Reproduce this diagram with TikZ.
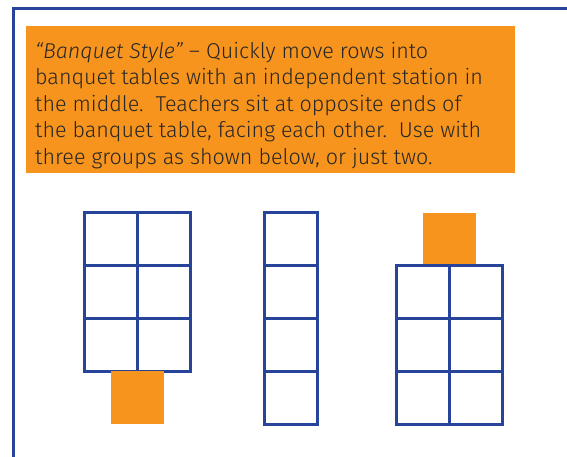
\documentclass[tikz,border=0pt]{standalone}
\usepackage{fontspec}
\setmainfont{Fira Sans}[UprightFont=* Light, ItalicFont=* Light Italic]
\definecolor{tblblue}{HTML}{26459A}
\definecolor{stnorange}{HTML}{F7941D}
\begin{document}
\begin{tikzpicture}[
  x=1pt, y=-1pt,
  cell/.style={rectangle, draw=tblblue, line width=3pt, minimum size=53pt, inner sep=0pt},
  station/.style={rectangle, fill=stnorange, minimum size=53pt, inner sep=0pt},
  note/.style={rectangle, fill=stnorange, minimum width=489pt, minimum height=147pt, inner sep=0pt}
]
  \useasboundingbox (0,0) rectangle (567,456);
  % outer frame
  \draw[tblblue, line width=2.5pt] (13.7,470) |- (580,8.7);
  % description
  \node[note] (box) at (270.5,99.5) {};
  \node[anchor=base west, align=left, text=black!85, inner sep=0pt,
        font=\fontsize{21.5}{26.6}\selectfont] (txt) at (35,164.4)
    {\textit{“Banquet Style”} – Quickly move rows into\\
     banquet tables with an independent station in\\
     the middle.\ \ Teachers sit at opposite ends of\\
     the banquet table, facing each other.\ \ Use with\\
     three groups as shown below, or just two.};
  % left table, station below
  \foreach \r [count=\i] in {238.5,291.5,344.5}{
    \node[cell] (L\i a) at (111,\r) {};
    \node[cell] (L\i b) at (164,\r) {};
  }
  \node[station] (Ls) at (137.5,397.5) {};
  % middle table
  \foreach \r [count=\i] in {238.5,291.5,344.5,397.5}
    \node[cell] (M\i) at (291,\r) {};
  % right table, station above
  \node[station] (Rs) at (449,239) {};
  \foreach \r [count=\i] in {292,345,398}{
    \node[cell] (R\i a) at (422.5,\r) {};
    \node[cell] (R\i b) at (475.5,\r) {};
  }
\end{tikzpicture}
\end{document}
